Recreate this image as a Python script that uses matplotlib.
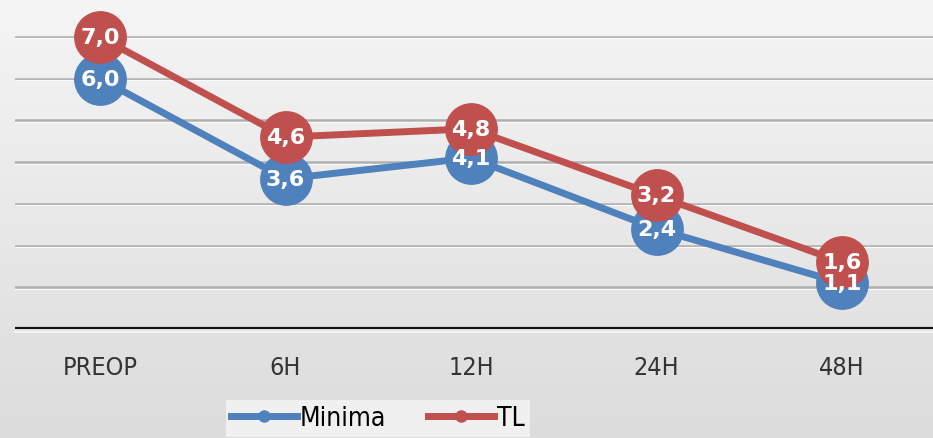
import numpy as np
import matplotlib.pyplot as plt
from matplotlib.colors import LinearSegmentedColormap

# pain scores over time
categories = ['PREOP', '6H', '12H', '24H', '48H']
minima = [6.0, 3.6, 4.1, 2.4, 1.1]
tl = [7.0, 4.6, 4.8, 3.2, 1.6]

blue = '#4f81bd'
red = '#c0504d'

fig = plt.figure(figsize=(9.33, 4.39), dpi=100)

# soft grey background
bg = fig.add_axes([0, 0, 1, 1], zorder=-10)
grad = np.linspace(0, 1, 256).reshape(-1, 1)
bg.imshow(grad, aspect='auto', extent=[0, 1, 0, 1],
          cmap=LinearSegmentedColormap.from_list('bg', ['#f5f5f5', '#dcdcdc']))
bg.axis('off')

ax = fig.add_axes([15 / 933, 109 / 439, 918 / 933, 330 / 439])
ax.patch.set_alpha(0)
x = np.arange(len(categories))

for yv in range(1, 8):
    ax.axhline(yv, color='#b0b0b0', lw=1.8, zorder=1)
    ax.axhline(yv - 0.035, color='#fbfbfb', lw=0.8, zorder=1)
ax.axhline(0, color='#111111', lw=3, zorder=2)
ax.axhline(-0.06, color='#fafafa', lw=1.2, zorder=2, clip_on=False)

ax.plot(x, minima, color=blue, lw=5, marker='o', ms=37, zorder=3)
ax.plot(x, tl, color=red, lw=5, marker='o', ms=37, zorder=4)

for series in (minima, tl):
    for xi, v in zip(x, series):
        ax.text(xi, v, f'{v:.1f}'.replace('.', ','), color='white', fontsize=16,
                fontweight='bold', ha='center', va='center', zorder=6)

ax.set_xlim(-0.458, 4.49)
ax.set_ylim(0, 7.91)
ax.set_xticks(x)
ax.set_xticklabels(categories, fontsize=18, color='#333333', fontstretch='condensed')
ax.set_yticks([])
ax.tick_params(axis='x', length=0, pad=19)
for s in ax.spines.values():
    s.set_visible(False)

h1 = plt.Line2D([], [], color=blue, lw=5, marker='o', ms=8)
h2 = plt.Line2D([], [], color=red, lw=5, marker='o', ms=8)
fig.legend([h1, h2], ['Minima', 'TL'], loc='upper center',
           bbox_to_anchor=(0.405, 38 / 439), ncol=2, frameon=True,
           fancybox=False, facecolor='#f0f0f0', edgecolor='none',
           framealpha=1, prop={'size': 19, 'stretch': 'condensed'},
           handlelength=2.5, handletextpad=0.1, columnspacing=1.6,
           borderpad=0.2, borderaxespad=0)

fig.savefig('out.png', dpi=100)
